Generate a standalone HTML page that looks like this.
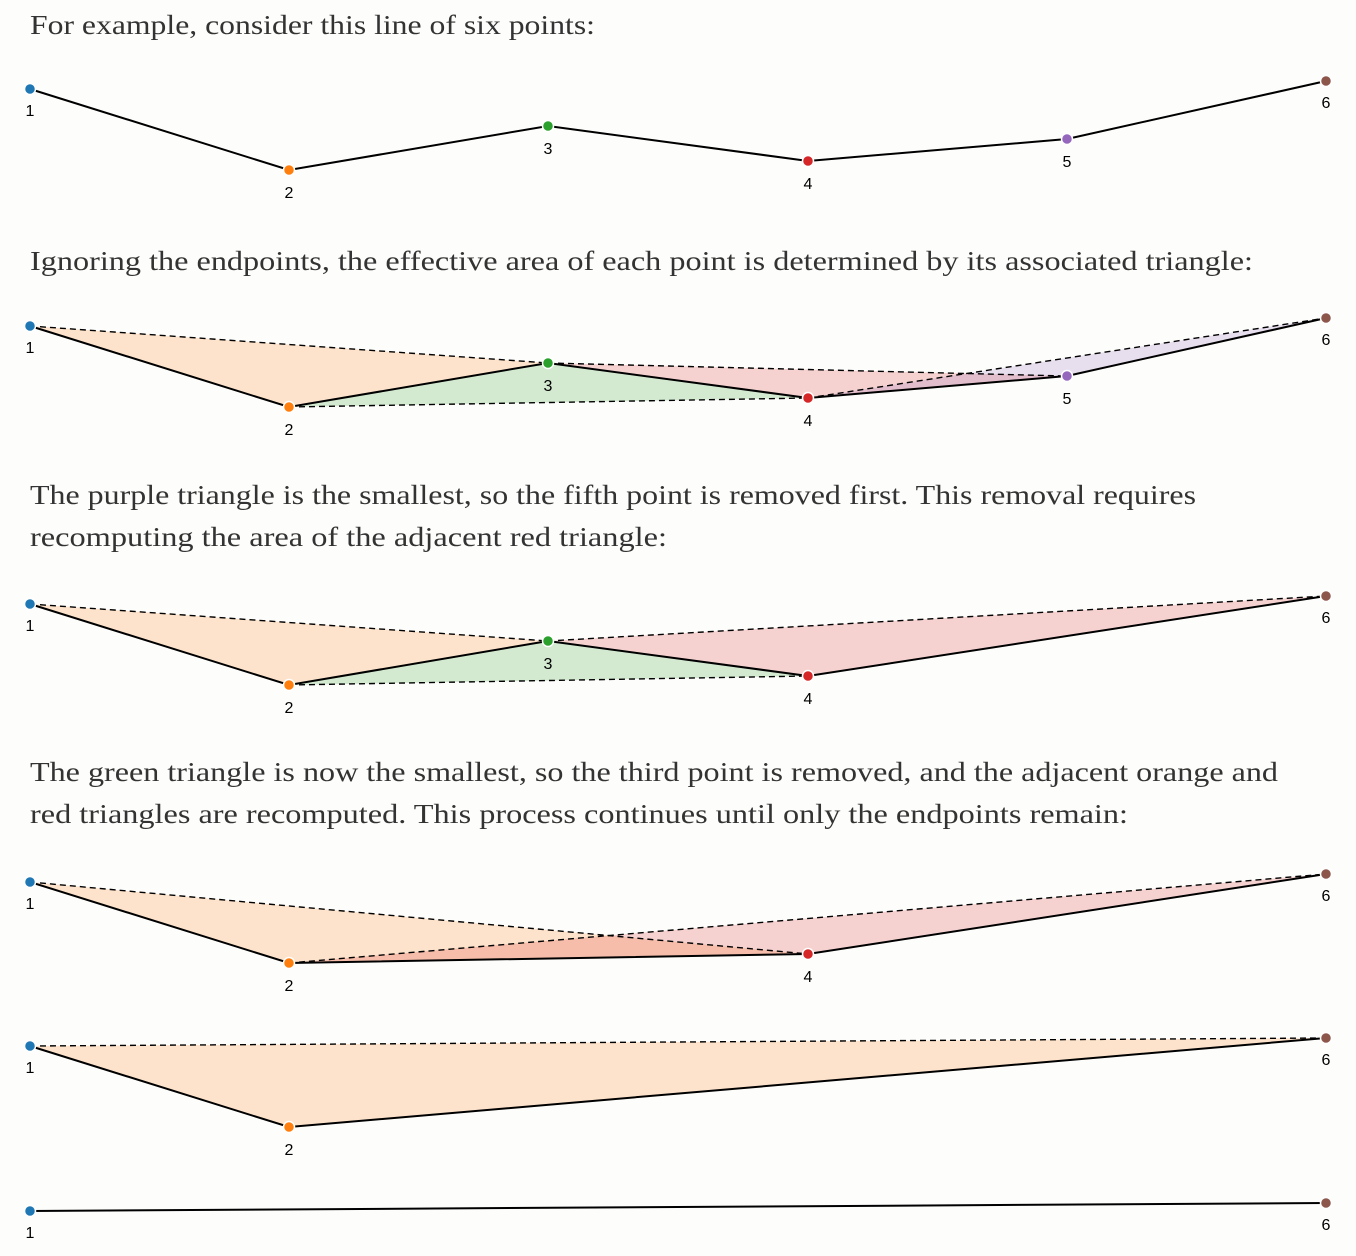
<!DOCTYPE html>
<html><head><meta charset="utf-8"><style>
html,body{margin:0;padding:0;background:#fdfdfb;}
svg{display:block;}
.t{font-family:"Liberation Serif",serif;font-size:27px;fill:#333;}
.l{font-family:"Liberation Sans",sans-serif;font-size:16px;fill:#000;text-anchor:middle;}
.ln{fill:none;stroke:#000;stroke-width:2;}
.d{fill:none;stroke:#000;stroke-width:1.4;stroke-dasharray:6,4;}
circle{stroke:#fff;stroke-width:1.5;}
</style></head><body>
<svg width="1356" height="1256" viewBox="0 0 1356 1256">
<text class="t" x="30" y="34" textLength="565" lengthAdjust="spacingAndGlyphs">For example, consider this line of six points:</text>
<text class="t" x="30" y="270" textLength="1223" lengthAdjust="spacingAndGlyphs">Ignoring the endpoints, the effective area of each point is determined by its associated triangle:</text>
<text class="t" x="30" y="504" textLength="1166" lengthAdjust="spacingAndGlyphs">The purple triangle is the smallest, so the fifth point is removed first. This removal requires</text>
<text class="t" x="30" y="546" textLength="637" lengthAdjust="spacingAndGlyphs">recomputing the area of the adjacent red triangle:</text>
<text class="t" x="30" y="781" textLength="1248" lengthAdjust="spacingAndGlyphs">The green triangle is now the smallest, so the third point is removed, and the adjacent orange and</text>
<text class="t" x="30" y="823" textLength="1098" lengthAdjust="spacingAndGlyphs">red triangles are recomputed. This process continues until only the endpoints remain:</text>

<!-- chart 1 -->
<polyline class="ln" points="30,89 289,170 548,126 808,161 1067,139 1326,81"/>
<circle cx="30" cy="89" r="5.5" fill="#1f77b4"/><circle cx="289" cy="170" r="5.5" fill="#ff7f0e"/><circle cx="548" cy="126" r="5.5" fill="#2ca02c"/><circle cx="808" cy="161" r="5.5" fill="#d62728"/><circle cx="1067" cy="139" r="5.5" fill="#9467bd"/><circle cx="1326" cy="81" r="5.5" fill="#8c564b"/>
<text class="l" x="30" y="116">1</text><text class="l" x="289" y="198">2</text><text class="l" x="548" y="154">3</text><text class="l" x="808" y="189">4</text><text class="l" x="1067" y="167">5</text><text class="l" x="1326" y="108">6</text>

<!-- chart 2 -->
<polygon points="30,326 289,407 548,363" fill="#ff7f0e" fill-opacity="0.2"/>
<polygon points="289,407 548,363 808,398" fill="#2ca02c" fill-opacity="0.2"/>
<polygon points="548,363 808,398 1067,376" fill="#d62728" fill-opacity="0.2"/>
<polygon points="808,398 1067,376 1326,318" fill="#9467bd" fill-opacity="0.2"/>
<line class="d" x1="30" y1="326" x2="548" y2="363"/><line class="d" x1="289" y1="407" x2="808" y2="398"/><line class="d" x1="548" y1="363" x2="1067" y2="376"/><line class="d" x1="808" y1="398" x2="1326" y2="318"/>
<polyline class="ln" points="30,326 289,407 548,363 808,398 1067,376 1326,318"/>
<circle cx="30" cy="326" r="5.5" fill="#1f77b4"/><circle cx="289" cy="407" r="5.5" fill="#ff7f0e"/><circle cx="548" cy="363" r="5.5" fill="#2ca02c"/><circle cx="808" cy="398" r="5.5" fill="#d62728"/><circle cx="1067" cy="376" r="5.5" fill="#9467bd"/><circle cx="1326" cy="318" r="5.5" fill="#8c564b"/>
<text class="l" x="30" y="353">1</text><text class="l" x="289" y="435">2</text><text class="l" x="548" y="391">3</text><text class="l" x="808" y="426">4</text><text class="l" x="1067" y="404">5</text><text class="l" x="1326" y="345">6</text>

<!-- chart 3 -->
<polygon points="30,604 289,685 548,641" fill="#ff7f0e" fill-opacity="0.2"/>
<polygon points="289,685 548,641 808,676" fill="#2ca02c" fill-opacity="0.2"/>
<polygon points="548,641 808,676 1326,596" fill="#d62728" fill-opacity="0.2"/>
<line class="d" x1="30" y1="604" x2="548" y2="641"/><line class="d" x1="289" y1="685" x2="808" y2="676"/><line class="d" x1="548" y1="641" x2="1326" y2="596"/>
<polyline class="ln" points="30,604 289,685 548,641 808,676 1326,596"/>
<circle cx="30" cy="604" r="5.5" fill="#1f77b4"/><circle cx="289" cy="685" r="5.5" fill="#ff7f0e"/><circle cx="548" cy="641" r="5.5" fill="#2ca02c"/><circle cx="808" cy="676" r="5.5" fill="#d62728"/><circle cx="1326" cy="596" r="5.5" fill="#8c564b"/>
<text class="l" x="30" y="631">1</text><text class="l" x="289" y="713">2</text><text class="l" x="548" y="669">3</text><text class="l" x="808" y="704">4</text><text class="l" x="1326" y="623">6</text>

<!-- chart 4 -->
<polygon points="30,882 289,963 808,954" fill="#ff7f0e" fill-opacity="0.2"/>
<polygon points="289,963 808,954 1326,874" fill="#d62728" fill-opacity="0.2"/>
<line class="d" x1="30" y1="882" x2="808" y2="954"/><line class="d" x1="289" y1="963" x2="1326" y2="874"/>
<polyline class="ln" points="30,882 289,963 808,954 1326,874"/>
<circle cx="30" cy="882" r="5.5" fill="#1f77b4"/><circle cx="289" cy="963" r="5.5" fill="#ff7f0e"/><circle cx="808" cy="954" r="5.5" fill="#d62728"/><circle cx="1326" cy="874" r="5.5" fill="#8c564b"/>
<text class="l" x="30" y="909">1</text><text class="l" x="289" y="991">2</text><text class="l" x="808" y="982">4</text><text class="l" x="1326" y="901">6</text>

<!-- chart 5 -->
<polygon points="30,1046 289,1127 1326,1038" fill="#ff7f0e" fill-opacity="0.2"/>
<line class="d" x1="30" y1="1046" x2="1326" y2="1038"/>
<polyline class="ln" points="30,1046 289,1127 1326,1038"/>
<circle cx="30" cy="1046" r="5.5" fill="#1f77b4"/><circle cx="289" cy="1127" r="5.5" fill="#ff7f0e"/><circle cx="1326" cy="1038" r="5.5" fill="#8c564b"/>
<text class="l" x="30" y="1073">1</text><text class="l" x="289" y="1155">2</text><text class="l" x="1326" y="1065">6</text>

<!-- chart 6 -->
<polyline class="ln" points="30,1211 1326,1203"/>
<circle cx="30" cy="1211" r="5.5" fill="#1f77b4"/><circle cx="1326" cy="1203" r="5.5" fill="#8c564b"/>
<text class="l" x="30" y="1238">1</text><text class="l" x="1326" y="1230">6</text>
</svg>
</body></html>
